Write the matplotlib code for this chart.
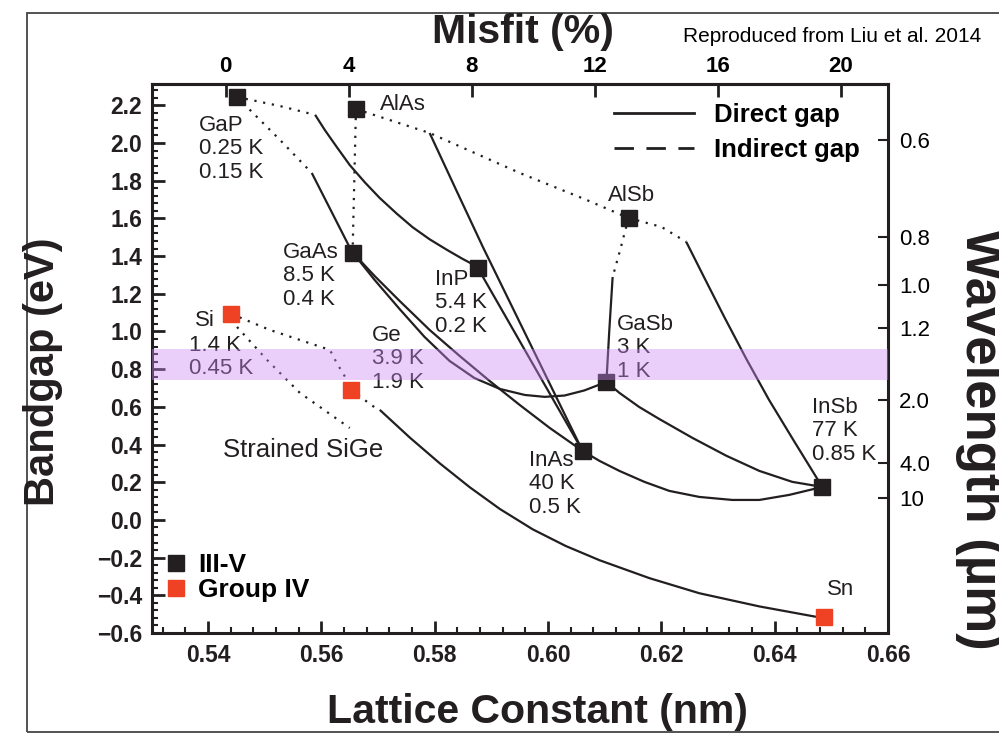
import numpy as np
import matplotlib.pyplot as plt
from matplotlib.lines import Line2D
from matplotlib.patches import Rectangle
from matplotlib.ticker import MultipleLocator

plt.rcParams['font.family'] = ['Liberation Sans', 'DejaVu Sans']

# binary compounds: lattice constant (nm), bandgap (eV)
iii_v_a = [0.5451, 0.5661, 0.5655, 0.5876, 0.6142, 0.6103, 0.6061, 0.6484]
iii_v_eg = [2.244, 2.180, 1.416, 1.337, 1.602, 0.732, 0.366, 0.175]
group_iv_a = [0.5441, 0.5652, 0.6487]
group_iv_eg = [1.093, 0.690, -0.515]

# alloy curves (a, Eg)
gap_inp_ind = [(0.5451, 2.244), (0.5527, 2.196), (0.5589, 2.149)]
gap_inp_dir = [(0.5589, 2.149), (0.5606, 2.069), (0.5627, 1.979), (0.5650, 1.883), (0.5677, 1.790),
               (0.5703, 1.708), (0.5733, 1.625), (0.5761, 1.553), (0.5791, 1.489), (0.5821, 1.434),
               (0.5848, 1.387), (0.5876, 1.342)]
gap_gaas_ind = [(0.5451, 2.244), (0.5527, 2.016), (0.5583, 1.841)]
gap_gaas_dir = [(0.5583, 1.841), (0.5655, 1.416)]
alas_gaas_ind = [(0.5661, 2.180), (0.5655, 1.416)]
alas_alsb_ind = [(0.5661, 2.180), (0.5791, 2.053), (0.5950, 1.841), (0.6068, 1.698), (0.6142, 1.602)]
alas_inas_dir = [(0.5791, 2.053), (0.5837, 1.756), (0.5885, 1.448), (0.5973, 0.907), (0.6061, 0.366)]
alsb_insb_ind = [(0.6142, 1.602), (0.6200, 1.555), (0.6244, 1.475)]
alsb_insb_dir = [(0.6244, 1.475), (0.6276, 1.284), (0.6311, 1.077), (0.6350, 0.854), (0.6390, 0.637),
                 (0.6434, 0.419), (0.6484, 0.175)]
alsb_gasb_ind = [(0.6142, 1.602), (0.6128, 1.440), (0.6114, 1.289)]
alsb_gasb_dir = [(0.6114, 1.289), (0.6108, 1.000), (0.6103, 0.732)]
gaas_inas_dir = [(0.5656, 1.416), (0.5694, 1.294), (0.5738, 1.162), (0.5791, 1.008), (0.5844, 0.870),
                 (0.5897, 0.737), (0.5950, 0.610), (0.6003, 0.488), (0.6061, 0.366)]
gaas_gasb_dir = [(0.5656, 1.416), (0.5694, 1.273), (0.5738, 1.119), (0.5782, 0.971), (0.5826, 0.844),
                 (0.5870, 0.753), (0.5915, 0.695), (0.5959, 0.663), (0.5994, 0.653), (0.6029, 0.660),
                 (0.6064, 0.687), (0.6103, 0.732)]
inp_inas_dir = [(0.5876, 1.337), (0.6061, 0.366)]
inas_insb_dir = [(0.6061, 0.366), (0.6091, 0.313), (0.6126, 0.260), (0.6170, 0.202), (0.6214, 0.154),
                 (0.6267, 0.122), (0.6325, 0.106), (0.6373, 0.106), (0.6426, 0.133), (0.6484, 0.175)]
gasb_insb_dir = [(0.6103, 0.732), (0.6126, 0.674), (0.6161, 0.599), (0.6196, 0.536), (0.6255, 0.435),
                 (0.6315, 0.340), (0.6373, 0.260), (0.6431, 0.202), (0.6484, 0.175)]
si_ge_ind = [(0.5441, 1.093), (0.5509, 1.008), (0.5562, 0.955), (0.5615, 0.902), (0.5627, 0.833),
             (0.5645, 0.743), (0.5652, 0.690)]
sige_strained = [(0.5451, 1.024), (0.5504, 0.849), (0.5562, 0.674), (0.5650, 0.488)]
ge_sn_ind = [(0.5652, 0.690), (0.5700, 0.584)]
ge_sn_dir = [(0.5703, 0.584), (0.5756, 0.437), (0.5809, 0.300), (0.5862, 0.173), (0.5915, 0.058),
             (0.5973, -0.050), (0.6031, -0.138), (0.6091, -0.214), (0.6179, -0.309), (0.6267, -0.389),
             (0.6373, -0.459), (0.6473, -0.514)]

# annotations: text, a, Eg (top-left anchor), size
note_text = ['GaP\n0.25 K\n0.15 K', 'AlAs', 'GaAs\n8.5 K\n0.4 K', 'InP\n5.4 K\n0.2 K', 'AlSb',
             'GaSb\n3 K\n1 K', 'Si', '1.4 K\n0.45 K', 'Ge\n3.9 K\n1.9 K', 'Strained SiGe',
             'InAs\n40 K\n0.5 K', 'InSb\n77 K\n0.85 K', 'Sn']
note_a = [0.5384, 0.5703, 0.5532, 0.5800, 0.6105, 0.6122, 0.5377, 0.5367, 0.5689, 0.5426,
          0.5967, 0.6466, 0.6492]
note_eg = [2.149, 2.26, 1.475, 1.332, 1.777, 1.093, 1.114, 0.981, 1.034, 0.435, 0.371, 0.653, -0.313]
note_size = [16, 16, 16, 16, 16, 16, 16, 16, 16, 18.5, 16, 16, 16]

# telecom band (eV)
band_lo, band_hi = 0.740, 0.907

# right axis: wavelength labels and where they sit (eV)
wl_labels = ['0.6', '0.8', '1.0', '1.2', '2.0', '4.0', '10']
wl_eg = [2.016, 1.500, 1.247, 1.019, 0.637, 0.302, 0.117]

a_si = 0.5431
ink = '#231f20'
red = '#ef4123'

fig = plt.figure(figsize=(9.99, 7.35), dpi=100)
ax = fig.add_axes([152 / 999, 1 - 633 / 735, 736 / 999, 549 / 735])

solid = dict(color=ink, lw=1.6, zorder=2, solid_capstyle='butt', solid_joinstyle='round')
dots = dict(color=ink, lw=1.6, ls=(0, (1, 3)), zorder=2)

for c in [gap_inp_dir, gap_gaas_dir, alas_inas_dir, alsb_insb_dir, alsb_gasb_dir, gaas_inas_dir,
          gaas_gasb_dir, inp_inas_dir, inas_insb_dir, gasb_insb_dir, ge_sn_dir]:
    ax.plot(*zip(*c), **solid)
for c in [gap_inp_ind, gap_gaas_ind, alas_gaas_ind, alas_alsb_ind, alsb_insb_ind, alsb_gasb_ind,
          si_ge_ind, sige_strained, ge_sn_ind]:
    ax.plot(*zip(*c), **dots)

ax.plot(iii_v_a, iii_v_eg, ls='none', marker='s', ms=11.5, color=ink, zorder=4)
ax.plot(group_iv_a, group_iv_eg, ls='none', marker='s', ms=11.5, color=red, zorder=4)

for t, x, y, s in zip(note_text, note_a, note_eg, note_size):
    ax.text(x, y, t, fontsize=s, color=ink, ha='left', va='top', linespacing=1.15, zorder=3)

ax.axhspan(band_lo, band_hi, color='#cd89f7', alpha=0.4, lw=0, zorder=6)

ax.set_xlim(0.5301, 0.66)
ax.set_ylim(-0.6, 2.313)
ax.xaxis.set_major_locator(MultipleLocator(0.02))
ax.xaxis.set_minor_locator(MultipleLocator(0.004))
ax.yaxis.set_major_locator(MultipleLocator(0.2))
ax.yaxis.set_minor_locator(MultipleLocator(0.04))
ax.xaxis.set_major_formatter(plt.FormatStrFormatter('%.2f'))
ax.yaxis.set_major_formatter(plt.FuncFormatter(lambda v, p: f'{v:.1f}'.replace('-', '\u2212')))
ax.tick_params(which='major', direction='in', length=9, width=2, labelsize=16.5, color=ink)
ax.tick_params(which='minor', direction='in', length=4.5, width=1.5, color=ink)
ax.tick_params(axis='x', pad=8)
ax.tick_params(axis='y', pad=7)
for lab in ax.get_xticklabels() + ax.get_yticklabels():
    lab.set_fontweight('bold')
    lab.set_color(ink)
for s in ax.spines.values():
    s.set_linewidth(2.2)
    s.set_color(ink)

top = ax.secondary_xaxis('top', functions=(lambda a: (a - a_si) / a_si * 100,
                                           lambda m: a_si * (1 + m / 100)))
top.set_xticks([0, 4, 8, 12, 16, 20])
top.tick_params(direction='in', length=9, width=2, labelsize=16, pad=5, color=ink)
for lab in top.get_xticklabels():
    lab.set_fontweight('bold')
    lab.set_fontsize(16)
top.spines['top'].set_linewidth(2.2)

right = ax.twinx()
right.set_ylim(ax.get_ylim())
right.set_yticks(wl_eg, wl_labels)
right.tick_params(direction='in', length=7, width=1.5, labelsize=16, pad=8, color=ink)
right.yaxis.set_minor_locator(plt.NullLocator())
for s in right.spines.values():
    s.set_visible(False)

# legends
h1 = [Line2D([], [], color=ink, lw=2), Line2D([], [], color=ink, lw=2, ls=(0, (7, 4.5)))]
leg1 = ax.legend(h1, ['Direct gap', 'Indirect gap'], loc='upper left', bbox_to_anchor=(0.628, 0.966),
                 frameon=False, borderpad=0, borderaxespad=0, handlelength=3.1, handletextpad=0.8,
                 labelspacing=0.45, prop=dict(weight='bold', size=18.5))
ax.add_artist(leg1)
h2 = [Line2D([], [], ls='none', marker='s', ms=12, color=ink),
      Line2D([], [], ls='none', marker='s', ms=12, color=red)]
ax.legend(h2, ['III-V', 'Group IV'], loc='lower left', bbox_to_anchor=(0.02, 0.056), frameon=False,
          borderpad=0, borderaxespad=0, handlelength=0.7, handletextpad=0.5, labelspacing=0.05,
          prop=dict(weight='bold', size=19))

fig.text(43 / 999, 1 - 372 / 735, 'Bandgap (eV)', rotation=90, ha='center', va='center',
         fontsize=30, fontweight='bold', color=ink)
fig.text(537 / 999, 1 - 723 / 735, 'Lattice Constant (nm)', ha='center', va='baseline',
         fontsize=29.5, fontweight='bold', color=ink)
fig.text(523 / 999, 1 - 43 / 735, 'Misfit (%)', ha='center', va='baseline',
         fontsize=29.5, fontweight='bold', color=ink)
fig.text(966 / 999, 1 - 439 / 735, 'Wavelength (µm)', rotation=270, rotation_mode='anchor',
         ha='center', va='baseline', fontsize=38, fontweight='bold', color=ink)
fig.text(683 / 999, 1 - 42 / 735, 'Reproduced from Liu et al. 2014', ha='left', va='baseline',
         fontsize=15, color='black')

fig.patches.append(Rectangle((27 / 999, 3 / 735), 1.0, 1 - 16 / 735, transform=fig.transFigure,
                             fill=False, lw=1.3, ec='#444444'))

fig.savefig('out.png', dpi=100)
